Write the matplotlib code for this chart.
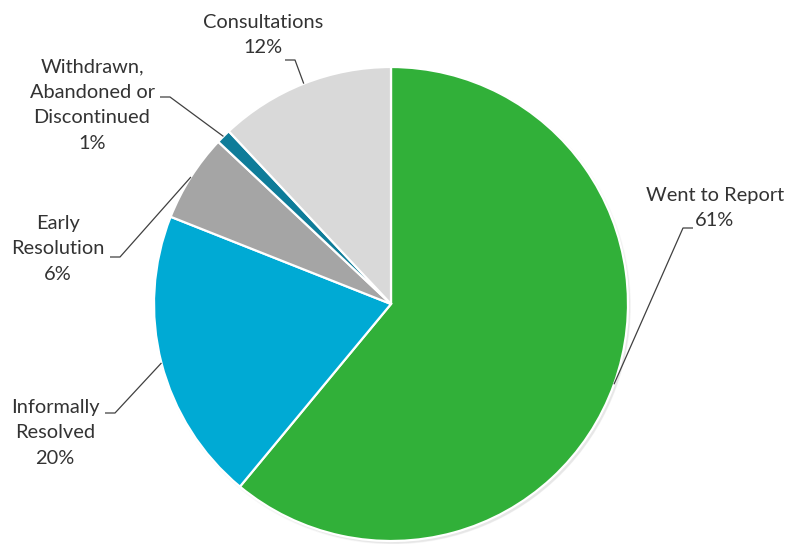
import numpy as np
import matplotlib.pyplot as plt
from matplotlib.patches import Circle

# Case outcomes (percent of total)
labels = ["Went to Report", "Informally\nResolved", "Early\nResolution",
          "Withdrawn,\nAbandoned or\nDiscontinued", "Consultations"]
shares = [61, 20, 6, 1, 12]
colors = ["#31B039", "#00AAD4", "#A5A5A5", "#0E7C99", "#D9D9D9"]

W, H = 786, 544
fig = plt.figure(figsize=(W / 100, H / 100), dpi=100)
ax = fig.add_axes([0, 0, 1, 1])

cx, cy, r = 391, H - 304, 237

# soft drop shadow under the pie
for k, a in enumerate([0.025, 0.03, 0.04]):
    ax.add_patch(Circle((cx + 1.5 + k * 0.5, cy - 2 - k * 0.5), r + 1.5 - k, color="#000000",
                        alpha=a, lw=0, zorder=0))

wedges, _ = ax.pie(shares, colors=colors, startangle=90, counterclock=False,
                   center=(cx, cy), radius=r, frame=True,
                   wedgeprops=dict(edgecolor="white", linewidth=1.6))
ax.set_xlim(0, W)
ax.set_ylim(0, H)
ax.axis("off")
for w in wedges:
    w.set_zorder(2)

# label block centre (x, y in pixels from top) and leader elbow / end
label_pos = [
    (715, 208, (683, 228), (693, 228)),
    (55, 433, (115, 413), (105, 413)),
    (58, 249, (120, 257), (110, 257)),
    (92, 105, (170, 97), (160, 97)),
    (263, 35, (295, 60), (285, 60)),
]

for w, lab, s, (tx, ty, elbow, end) in zip(wedges, labels, shares, label_pos):
    mid = np.deg2rad((w.theta1 + w.theta2) / 2)
    px, py = cx + r * np.cos(mid), cy + r * np.sin(mid)
    ax.plot([px, elbow[0], end[0]], [py, H - elbow[1], H - end[1]],
            color="#404040", lw=0.9, zorder=3, solid_capstyle="butt")
    ax.text(tx, H - ty, f"{lab}\n{s}%", ha="center", va="center",
            fontsize=14.4, family=["Lato", "DejaVu Sans"], color="#333333",
            linespacing=1.62, zorder=4)

fig.savefig("out.png", dpi=100, facecolor="white")
